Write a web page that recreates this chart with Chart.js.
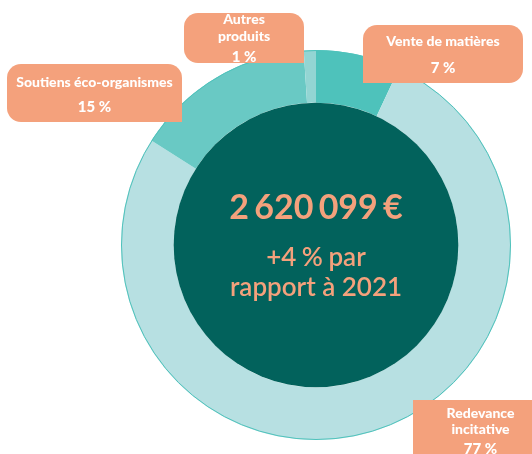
<!DOCTYPE html>
<html>
<head>
<meta charset="utf-8">
<script src="https://cdn.jsdelivr.net/npm/chart.js@4"></script>
<style>
  html, body { margin: 0; padding: 0; background: #fff; }
  #wrap { width: 532px; height: 454px; position: relative; }
</style>
</head>
<body>
<div id="wrap"><canvas id="chart"></canvas></div>
<script>
// Recettes (parts en %)
const categories = ['Vente de matières', 'Redevance incitative', 'Soutiens éco-organismes', 'Autres produits'];
const shares = [7, 77, 15, 1];
const shareLabels = ['7 %', '77 %', '15 %', '1 %'];
const sliceColors = ['#4ec2bb', '#b7e0e2', '#69c9c4', '#93d5d3'];

const totalLabel = '2 620 099 €';
const evolutionLines = ['+4 % par', 'rapport à 2021'];

const ORANGE = '#f4a17c';
const DARK = '#02625c';

// label boxes (annotation layout only)
const boxes = [
  { x: 363, y: 25, w: 160, h: 58, r: [14, 14, 14, 0], lines: [[categories[0], 41], [shareLabels[0], 68]] },
  { x: 413, y: 400, w: 135, h: 70, r: [0, 14, 14, 14], lines: [['Redevance', 413], ['incitative', 429], [shareLabels[1], 449]] },
  { x: 7, y: 64, w: 175, h: 58, r: [14, 14, 0, 14], lines: [[categories[2], 82], [shareLabels[2], 107]] },
  { x: 184, y: 13, w: 120, h: 50, r: [14, 14, 0, 14], lines: [['Autres', 19], ['produits', 36], [shareLabels[3], 57]] }
];

const centerPlugin = {
  id: 'centerPlugin',
  afterDatasetsDraw(chart) {
    const ctx = chart.ctx;
    const arc = chart.getDatasetMeta(0).data[0];
    const cx = arc.x, cy = arc.y;
    ctx.save();
    // dark centre disc
    ctx.beginPath();
    ctx.arc(cx, cy, arc.innerRadius, 0, Math.PI * 2);
    ctx.fillStyle = DARK;
    ctx.fill();
    // thin outer outline
    ctx.beginPath();
    ctx.arc(cx, cy, arc.outerRadius - 0.5, 0, Math.PI * 2);
    ctx.strokeStyle = '#4ec2bb';
    ctx.lineWidth = 1;
    ctx.stroke();
    // centre texts
    ctx.fillStyle = ORANGE;
    ctx.textAlign = 'center';
    ctx.textBaseline = 'middle';
    ctx.font = 'bold 34px Lato';
    ctx.wordSpacing = '-3px';
    ctx.fillText(totalLabel, cx, cy - 37);
    ctx.font = '600 26px Lato';
    ctx.wordSpacing = '-1px';
    ctx.fillText(evolutionLines[0], cx, cy + 13);
    ctx.wordSpacing = '0px';
    ctx.fillText(evolutionLines[1], cx, cy + 43);
    ctx.restore();
  },
  afterDraw(chart) {
    const ctx = chart.ctx;
    ctx.save();
    boxes.forEach(b => {
      ctx.beginPath();
      ctx.roundRect(b.x, b.y, b.w, b.h, b.r);
      ctx.fillStyle = ORANGE;
      ctx.fill();
      ctx.fillStyle = '#ffffff';
      ctx.textAlign = 'center';
      ctx.textBaseline = 'middle';
      b.lines.forEach(([t, y]) => {
        ctx.font = (t.indexOf('%') >= 0 ? '900 15px' : '900 14px') + ' Lato';
        ctx.fillText(t, b.x + b.w / 2, y);
      });
    });
    ctx.restore();
  }
};

const ctx = document.getElementById('chart');
const chart = new Chart(ctx, {
  type: 'doughnut',
  data: {
    labels: categories,
    datasets: [{
      data: shares,
      backgroundColor: sliceColors,
      borderWidth: 0
    }]
  },
  options: {
    responsive: true,
    maintainAspectRatio: false,
    animation: false,
    cutout: '73%',
    layout: { padding: { top: 50, bottom: 14, left: 121, right: 21 } },
    plugins: {
      legend: { display: false },
      tooltip: { enabled: false }
    }
  },
  plugins: [centerPlugin]
});
</script>
</body>
</html>
